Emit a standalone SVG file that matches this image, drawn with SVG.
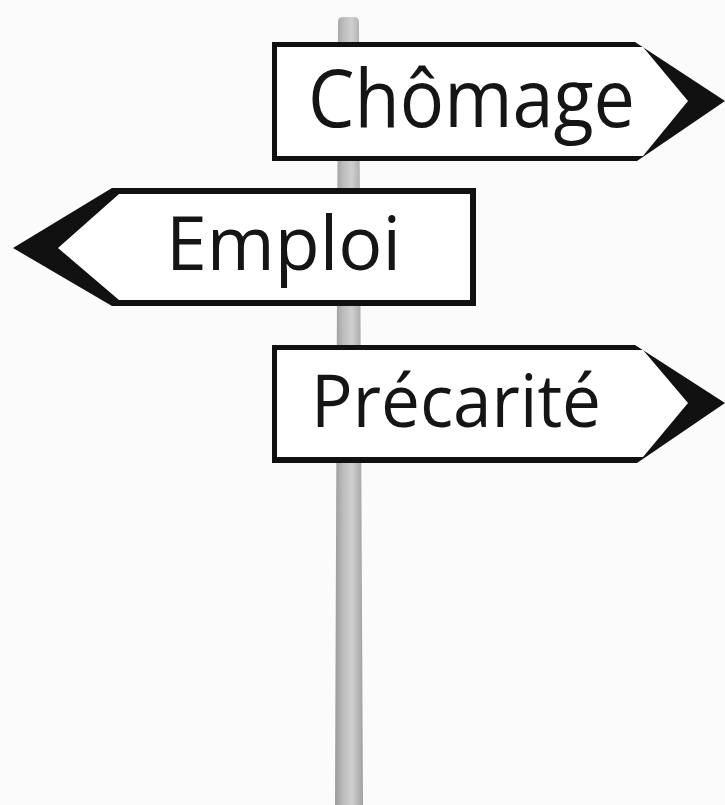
<svg xmlns="http://www.w3.org/2000/svg" width="725" height="805" viewBox="0 0 725 805">
  <defs>
    <linearGradient id="poleGrad" x1="0" y1="0" x2="1" y2="0">
      <stop offset="0" stop-color="#9c9c9c"/>
      <stop offset="0.3" stop-color="#bdbdbd"/>
      <stop offset="0.6" stop-color="#cfcfcf"/>
      <stop offset="0.85" stop-color="#b4b4b4"/>
      <stop offset="1" stop-color="#a0a0a0"/>
    </linearGradient>
  </defs>
  <style>
    .outer { fill: #111111; }
    .inner { fill: #ffffff; }
    .label { font-family: "Open Sans", "DejaVu Sans", sans-serif; fill: #151515; }
  </style>
  <rect x="0" y="0" width="725" height="805" fill="#fbfbfb"/>
  <g id="pole">
    <path d="M338,22 Q338,17 343,17 L354,17 Q359,17 359,22 L363,805 L335,805 Z" fill="url(#poleGrad)"/>
  </g>
  <g id="sign-chomage">
    <polygon class="outer" points="272,42 635,42 725,101 637,161 272,161"/>
    <polygon class="inner" points="277,47 643,47 688,101 643,156 277,156"/>
    <text class="label" x="308" y="127" font-size="80" textLength="327" lengthAdjust="spacingAndGlyphs">Chômage</text>
  </g>
  <g id="sign-emploi">
    <polygon class="outer" points="13,248 112,188 476,188 476,306 112,306"/>
    <polygon class="inner" points="58,248 119,194 470,194 470,300 119,300"/>
    <text class="label" x="166" y="270" font-size="75" textLength="235" lengthAdjust="spacingAndGlyphs">Emploi</text>
  </g>
  <g id="sign-precarite">
    <polygon class="outer" points="272,345 635,345 725,403 637,463 272,463"/>
    <polygon class="inner" points="277,350 643,350 688,403 643,457 277,457"/>
    <text class="label" x="311" y="427" font-size="73" textLength="290" lengthAdjust="spacingAndGlyphs">Précarité</text>
  </g>
</svg>
